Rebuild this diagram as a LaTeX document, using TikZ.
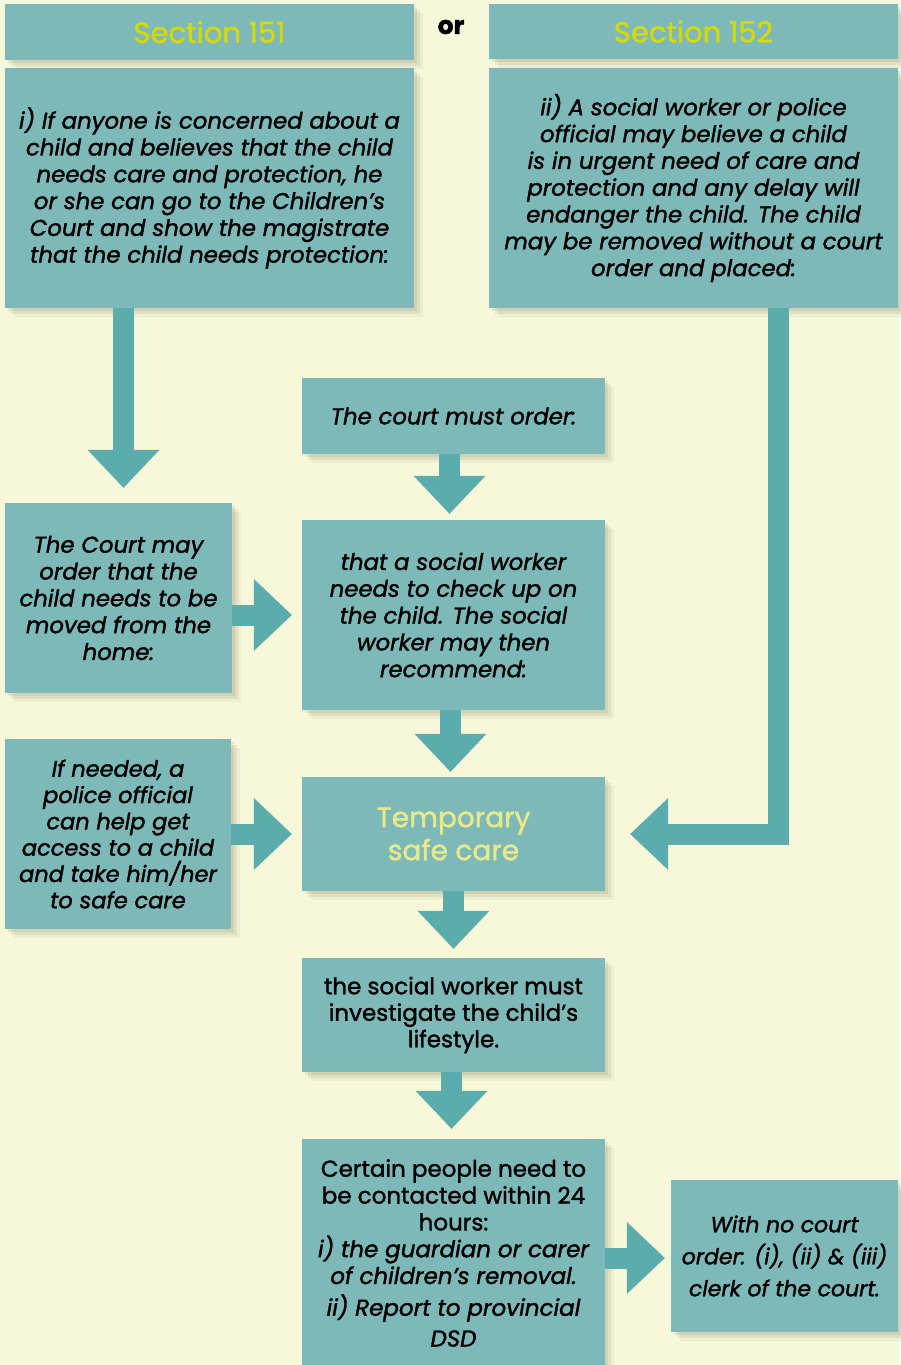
\documentclass[tikz,border=0pt]{standalone}
\usepackage{fontspec}
\setmainfont{Poppins}[FakeBold=1.5]
\usetikzlibrary{arrows.meta,shadows}
\definecolor{bg}{HTML}{F7F7DA}
\definecolor{boxc}{HTML}{7DB9B8}
\definecolor{arrc}{HTML}{5BACAD}
\definecolor{headc}{HTML}{D6D80E}
\definecolor{tempc}{HTML}{E9E98A}
\definecolor{shc}{HTML}{7E7E60}
\begin{document}
\begin{tikzpicture}[x=1pt,y=-1pt,
  box/.style={fill=boxc, inner sep=0pt, align=center, text=black,
    drop shadow={shadow xshift=3pt,shadow yshift=-3pt,opacity=0.14,fill=shc},
    drop shadow={shadow xshift=6pt,shadow yshift=-6pt,opacity=0.12,fill=shc},
    drop shadow={shadow xshift=9pt,shadow yshift=-9pt,opacity=0.08,fill=shc},
    font=\fontsize{22.8}{26.8}\selectfont\itshape},
  headtxt/.style={font=\fontsize{29}{30}\selectfont\upshape, text=headc},
  barrow/.style={draw=arrc, line width=21pt, line join=miter,
    -{Triangle[width=72pt,length=38pt,line width=0pt]}},
]
\fill[bg] (0,0) rectangle (900,1365);
\useasboundingbox (0,0) rectangle (900,1365);

\node[box, headtxt, minimum width=409pt, minimum height=56pt] (h1) at (209.5,32) {\raisebox{-2pt}{Section 151}};
\node[box, headtxt, minimum width=409pt, minimum height=55pt] (h2) at (693.5,31.5) {\raisebox{-2pt}{Section 152}};
\node[font=\fontsize{25}{26}\selectfont\bfseries] (or) at (451,27) {or};

\node[box, minimum width=409pt, minimum height=240pt] (b1) at (209.5,188)
 {i) If anyone is concerned about a\\ child and believes that the child\\ needs care and protection, he\\ or she can go to the Children’s\\ Court and show the magistrate\\ that the child needs protection:};
\node[box, minimum width=409pt, minimum height=240pt] (b2) at (693.5,188)
 {ii) A social worker or police\\ official may believe a child\\ is in urgent need of care and\\ protection and any delay will\\ endanger the child. The child\\ may be removed without a court\\ order and placed:};

\node[box, minimum width=303pt, minimum height=76pt] (cm) at (453.5,416) {The court must order:};
\node[box, minimum width=227pt, minimum height=190pt] (cmay) at (118.5,598)
 {The Court may\\ order that the\\ child needs to be\\ moved from the\\ home:};
\node[box, minimum width=303pt, minimum height=190pt] (sw) at (453.5,615)
 {that a social worker\\ needs to check up on\\ the child. The social\\ worker may then\\ recommend:};
\node[box, minimum width=226pt, minimum height=190pt, font=\fontsize{22.5}{26.3}\selectfont\itshape] (need) at (118,834)
 {If needed, a\\ police official\\ can help get\\ access to a child\\ and take him/her\\ to safe care};
\node[box, minimum width=303pt, minimum height=114pt, font=\fontsize{28}{33}\selectfont\upshape, text=tempc] (temp) at (453.5,834)
 {Temporary\\ safe care};
\node[box, minimum width=303pt, minimum height=114pt, font=\fontsize{23}{26.5}\selectfont\upshape] (inv) at (453.5,1015)
 {\raisebox{-3pt}{\parbox{300pt}{\centering the social worker must\\ investigate the child’s\\ lifestyle.}}};
\node[box, minimum width=303pt, minimum height=228pt, font=\fontsize{23}{26.8}\selectfont\upshape] (cert) at (453.5,1253)
 {Certain people need to\\ be contacted within 24\\ hours:\\ \itshape i) the guardian or carer\\ \itshape of children’s removal.\\[5pt] \itshape ii) Report to provincial\\[4pt] \itshape DSD};
\node[box, minimum width=227pt, minimum height=152pt, font=\fontsize{22}{32}\selectfont\itshape] (noc) at (784.5,1256)
 {With no court\\ order: (i), (ii) \& (iii)\\ clerk of the court.};

\draw[barrow] ([xshift=-86pt]b1.south) -- ([xshift=5pt,yshift=15pt]cmay.north);
\draw[barrow] ([xshift=-4pt]cm.south) -- ([xshift=-4pt,yshift=6pt]sw.north);
\draw[barrow] ([yshift=-17pt]cmay.east) -- ([xshift=-10pt]sw.west);
\draw[barrow] ([xshift=-3pt]sw.south) -- ([xshift=-3pt,yshift=5pt]temp.north);
\draw[barrow] (need.east) -- ([xshift=-10pt]temp.west);
\draw[barrow] ([xshift=84.5pt]b2.south) |- ([xshift=25pt]temp.east);
\draw[barrow] (temp.south) -- ([yshift=9pt]inv.north);
\draw[barrow] ([xshift=-2pt]inv.south) -- ([xshift=-2pt,yshift=10pt]cert.north);
\draw[barrow] ([yshift=-5pt]cert.east) -- ([xshift=-6pt,yshift=-2pt]noc.west);
\end{tikzpicture}
\end{document}
